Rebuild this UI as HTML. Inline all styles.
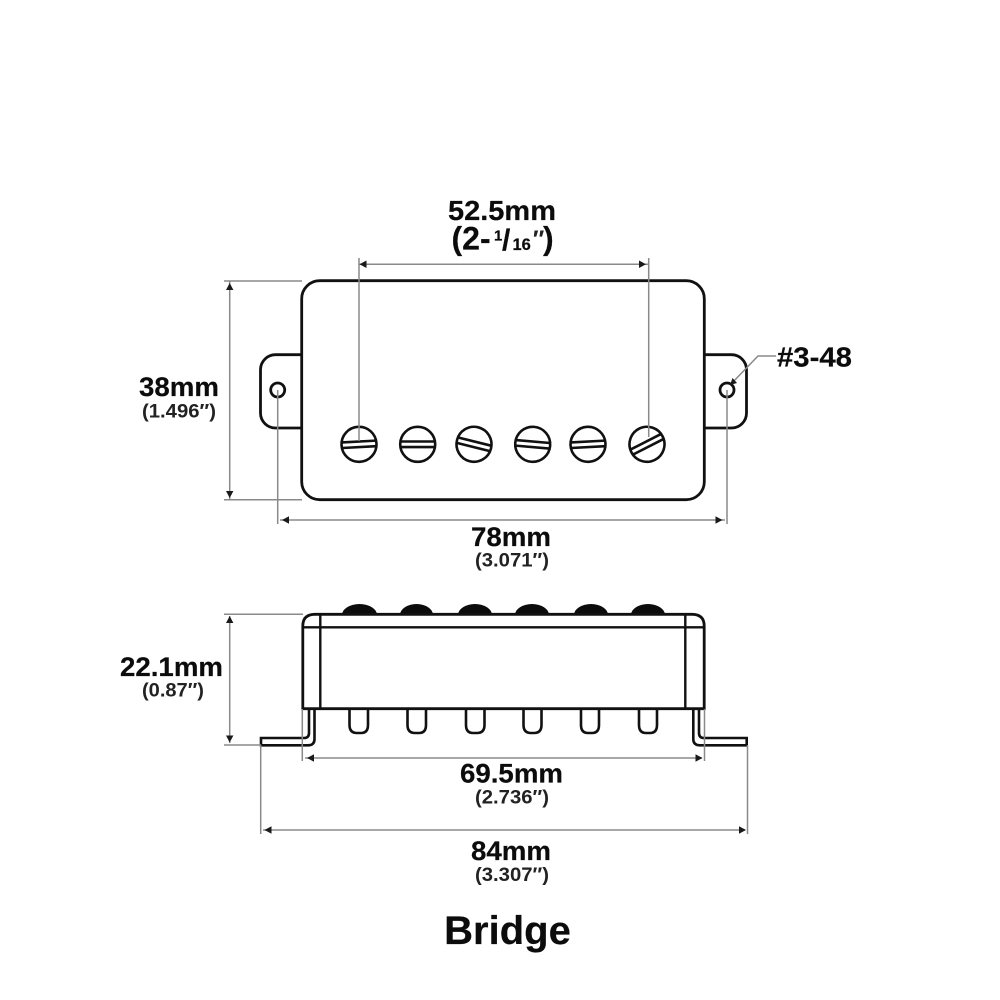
<!DOCTYPE html>
<html><head><meta charset="utf-8"><style>html,body{margin:0;padding:0;background:#fff}svg{display:block}text{font-family:"Liberation Sans",sans-serif;font-weight:bold;fill:#0c0c0c;stroke:#0c0c0c;stroke-width:.2px;text-anchor:middle}text.s{text-anchor:start}text.n{stroke:none;fill:#222}</style></head><body>
<svg width="1000" height="1000" viewBox="0 0 1000 1000" xmlns="http://www.w3.org/2000/svg">
<rect width="1000" height="1000" fill="#fff"/>
<!-- top view -->
<g fill="#fff" stroke="#111" stroke-width="2.8">
<rect x="260.5" y="354.7" width="60" height="73.3" rx="15"/>
<rect x="686" y="354.7" width="60.5" height="73.3" rx="15"/>
<rect x="301.7" y="280.7" width="402.600" height="219" rx="18"/>
<circle cx="277.700" cy="390" r="7"/>
<circle cx="727" cy="390" r="7"/>
</g>
<g stroke="#111" stroke-width="2.600" fill="none">
<g transform="translate(359,444.300) rotate(-3)"><circle r="17.500"/><path d="M-17-2.800H17M-17 2.800H17"/></g>
<g transform="translate(417.700,444.300)"><circle r="17.500"/><path d="M-17-2.800H17M-17 2.800H17"/></g>
<g transform="translate(474,444.300) rotate(14)"><circle r="17.500"/><path d="M-17-2.800H17M-17 2.800H17"/></g>
<g transform="translate(532.700,444.300) rotate(5)"><circle r="17.500"/><path d="M-17-2.800H17M-17 2.800H17"/></g>
<g transform="translate(588,444.300) rotate(-3)"><circle r="17.500"/><path d="M-17-2.800H17M-17 2.800H17"/></g>
<g transform="translate(647,444.300) rotate(-27)"><circle r="17.500"/><path d="M-17-2.800H17M-17 2.800H17"/></g>
</g>
<!-- side view -->
<g fill="#0c0c0c">
<path d="M342 615A17.500 11 0 0 1 377 615Z"/><path d="M400 615A16.500 11 0 0 1 433 615Z"/><path d="M458 615A17 11 0 0 1 492 615Z"/><path d="M515 615A17 11 0 0 1 549 615Z"/><path d="M574 615A17 11 0 0 1 608 615Z"/><path d="M631 615A17 11 0 0 1 665 615Z"/>
</g>
<g fill="#fff" stroke="#111" stroke-width="2.600">
<path d="M349.500 708V725Q349.500 733 357 733H361Q368 733 368 725V708Z"/>
<path d="M407.500 708V725Q407.500 733 415 733H419Q426 733 426 725V708Z"/>
<path d="M466 708V725Q466 733 473 733H477Q484.500 733 484.500 725V708Z"/>
<path d="M523.500 708V725Q523.500 733 531 733H534Q541.500 733 541.500 725V708Z"/>
<path d="M581 708V725Q581 733 588 733H592Q599 733 599 725V708Z"/>
<path d="M639 708V725Q639 733 646 733H650Q657 733 657 725V708Z"/>
<path d="M309 709V733Q309 738 304 738H261V745.300H308Q314.500 745.300 314.500 739V709"/>
<path d="M699 709V733Q699 738 704 738H746.700V745.300H700Q693.300 745.300 693.300 739V709"/>
</g>
<path d="M302.800 708.700V626Q302.800 614.300 315 614.300H692Q704.200 614.300 704.200 626V708.700Z" fill="#fff" stroke="#111" stroke-width="2.800"/>
<path d="M320.300 614.300V708.700M685.300 614.300V708.700M302.800 627.300H704.200" fill="none" stroke="#111" stroke-width="2.400"/>
<!-- dimension lines -->
<g stroke="#8a8a8a" stroke-width="1.500" fill="none">
<path d="M359 258V441M648.700 258V437M359 264.300H649"/>
<path d="M224 281H302M224 499.700H302M229.700 281V499"/>
<path d="M277.700 390V524M727 390V524M280 520H725"/>
<path d="M776 356H758L731 384"/>
<path d="M224 614.300H303M224 745H261M229.700 616V743"/>
<path d="M302.300 709V761M704.500 709V761M305 758H702"/>
<path d="M260.700 745V834M747.500 745V834M263 830H745"/>
</g>
<g fill="#1a1a1a">
<path d="M359.500 264.300L366.500 260.500V268Z"/><path d="M646 264.300L639 260.500V268Z"/>
<path d="M229.700 283L226 290H233.400Z"/><path d="M229.700 498L226 491H233.400Z"/>
<path d="M282 520L289 516.200V523.800Z"/><path d="M722.500 520L715.500 516.200V523.800Z"/>
<path d="M730 385L737 383L732.500 378Z"/>
<path d="M229.700 616L226 623H233.400Z"/><path d="M229.700 742.500L226 735.500H233.400Z"/>
<path d="M307 758L314 754.200V761.800Z"/><path d="M702.500 758L695.500 754.200V761.800Z"/>
<path d="M264.500 830L271.500 826.200V833.800Z"/><path d="M746 830L739 826.200V833.800Z"/>
</g>
<!-- labels -->
<text x="502" y="220" font-size="28" textLength="108" lengthAdjust="spacingAndGlyphs">52.5mm</text>
<text class="s" x="451.500" y="249.500" font-size="32">(2-</text>
<text class="s" x="494" y="240.500" font-size="15">1</text>
<text class="s" x="502" y="250" font-size="30">/</text>
<text class="s" x="512.500" y="250" font-size="16.500">16</text>
<text class="n s" x="531.500" y="247" font-size="24" font-style="italic">″</text>
<text class="s" x="543" y="249.500" font-size="32">)</text>
<text x="179" y="396" font-size="27" textLength="80" lengthAdjust="spacingAndGlyphs">38mm</text>
<text x="179" y="417.300" font-size="19" textLength="74" lengthAdjust="spacingAndGlyphs" class="n">(1.496″)</text>
<text x="511" y="546" font-size="27" textLength="80" lengthAdjust="spacingAndGlyphs">78mm</text>
<text x="512" y="566.700" font-size="19" textLength="74" lengthAdjust="spacingAndGlyphs" class="n">(3.071″)</text>
<text x="814.500" y="366.700" font-size="27.500" textLength="75" lengthAdjust="spacingAndGlyphs">#3-48</text>
<text x="171.500" y="676" font-size="27" textLength="103" lengthAdjust="spacingAndGlyphs">22.1mm</text>
<text x="173" y="696.700" font-size="19" textLength="62" lengthAdjust="spacingAndGlyphs" class="n">(0.87″)</text>
<text x="511.500" y="782.500" font-size="27" textLength="103" lengthAdjust="spacingAndGlyphs">69.5mm</text>
<text x="512" y="803.500" font-size="19" textLength="74" lengthAdjust="spacingAndGlyphs" class="n">(2.736″)</text>
<text x="511" y="860" font-size="27" textLength="80" lengthAdjust="spacingAndGlyphs">84mm</text>
<text x="512" y="881" font-size="19" textLength="74" lengthAdjust="spacingAndGlyphs" class="n">(3.307″)</text>
<text x="507.500" y="944" font-size="40">Bridge</text>
</svg>
</body></html>
